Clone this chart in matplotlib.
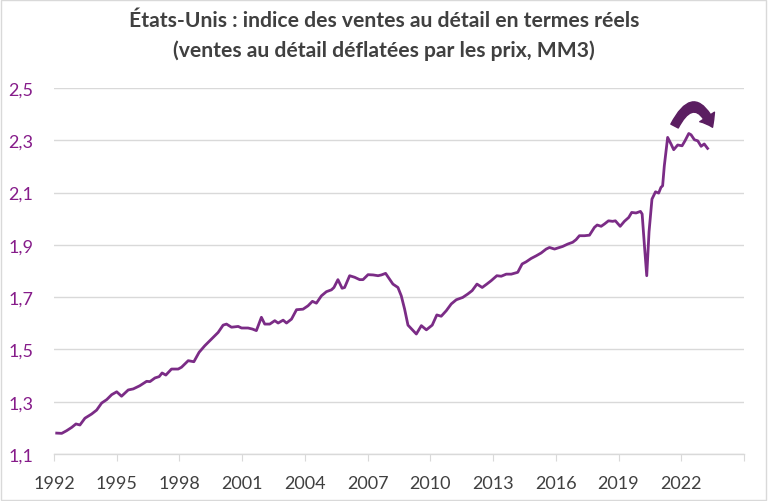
import matplotlib
matplotlib.use('Agg')
import matplotlib.pyplot as plt
from matplotlib.patches import FancyArrowPatch, Rectangle

plt.rcParams['font.family'] = ['Lato', 'DejaVu Sans']

years = [1992.13, 1992.37, 1992.60, 1992.85, 1993.05, 1993.24, 1993.48, 1993.80,
         1994.04, 1994.28, 1994.52, 1994.76, 1995.00, 1995.23, 1995.55, 1995.79,
         1996.10, 1996.43, 1996.59, 1996.83, 1997.03, 1997.17, 1997.35, 1997.62,
         1997.94, 1998.10, 1998.42, 1998.69, 1998.94, 1999.21, 1999.61, 1999.85,
         2000.09, 2000.25, 2000.49, 2000.81, 2000.97, 2001.28, 2001.49, 2001.68,
         2001.92, 2002.08, 2002.32, 2002.56, 2002.72, 2002.96, 2003.12, 2003.36,
         2003.60, 2003.91, 2004.15, 2004.36, 2004.55, 2004.79, 2005.03, 2005.27,
         2005.39, 2005.58, 2005.78, 2005.90, 2006.14, 2006.38, 2006.62, 2006.78,
         2007.02, 2007.26, 2007.50, 2007.66, 2007.86, 2008.05, 2008.21, 2008.45,
         2008.61, 2008.77, 2008.93, 2009.14, 2009.33, 2009.57, 2009.81, 2010.09,
         2010.31, 2010.52, 2010.76, 2011.00, 2011.24, 2011.55, 2011.79, 2012.00,
         2012.23, 2012.48, 2012.70, 2012.91, 2013.18, 2013.39, 2013.63, 2013.87,
         2014.18, 2014.39, 2014.58, 2014.82, 2015.06, 2015.30, 2015.54, 2015.70,
         2015.94, 2016.18, 2016.33, 2016.57, 2016.81, 2016.97, 2017.13, 2017.37,
         2017.61, 2017.85, 2017.98, 2018.17, 2018.33, 2018.52, 2018.72, 2018.85,
         2019.08, 2019.28, 2019.49, 2019.63, 2019.84, 2020.05, 2020.13, 2020.24,
         2020.35, 2020.46, 2020.60, 2020.77, 2020.92, 2021.03, 2021.11, 2021.19,
         2021.35, 2021.51, 2021.64, 2021.83, 2022.04, 2022.18, 2022.36, 2022.47,
         2022.63, 2022.79, 2022.95, 2023.10, 2023.26]
values = [1.180, 1.179, 1.189, 1.202, 1.215, 1.211, 1.237, 1.253,
          1.268, 1.295, 1.308, 1.327, 1.338, 1.321, 1.345, 1.349,
          1.361, 1.378, 1.377, 1.391, 1.396, 1.410, 1.402, 1.425,
          1.425, 1.432, 1.457, 1.453, 1.489, 1.514, 1.546, 1.565,
          1.593, 1.597, 1.585, 1.588, 1.582, 1.582, 1.578, 1.572,
          1.623, 1.597, 1.597, 1.610, 1.601, 1.612, 1.601, 1.616,
          1.652, 1.654, 1.667, 1.684, 1.677, 1.705, 1.721, 1.728,
          1.737, 1.767, 1.734, 1.737, 1.782, 1.776, 1.767, 1.767,
          1.786, 1.785, 1.782, 1.785, 1.791, 1.769, 1.750, 1.737,
          1.705, 1.654, 1.593, 1.575, 1.559, 1.591, 1.575, 1.593,
          1.632, 1.627, 1.648, 1.674, 1.690, 1.699, 1.712, 1.725,
          1.750, 1.737, 1.750, 1.763, 1.782, 1.780, 1.788, 1.788,
          1.795, 1.827, 1.835, 1.848, 1.858, 1.869, 1.884, 1.890,
          1.884, 1.890, 1.894, 1.903, 1.910, 1.920, 1.935, 1.935,
          1.937, 1.967, 1.976, 1.971, 1.980, 1.992, 1.990, 1.992,
          1.971, 1.990, 2.005, 2.024, 2.022, 2.028, 2.018, 1.897,
          1.782, 1.950, 2.075, 2.103, 2.098, 2.120, 2.126, 2.202,
          2.311, 2.286, 2.264, 2.282, 2.279, 2.298, 2.326, 2.321,
          2.302, 2.298, 2.277, 2.286, 2.269]

x_ticks = [1992, 1995, 1998, 2001, 2004, 2007, 2010, 2013, 2016, 2019, 2022, 2025]
x_labels = ['1992', '1995', '1998', '2001', '2004', '2007', '2010', '2013',
            '2016', '2019', '2022', '']
y_ticks = [1.1, 1.3, 1.5, 1.7, 1.9, 2.1, 2.3, 2.5]
y_labels = ['1,1', '1,3', '1,5', '1,7', '1,9', '2,1', '2,3', '2,5']

title = ("États-Unis : indice des ventes au détail en termes réels\n"
         "(ventes au détail déflatées par les prix, MM3)")

line_col = '#7B2C86'
label_col = '#861C8A'
grid_col = '#D9D9D9'

fig = plt.figure(figsize=(7.68, 5.02), dpi=100)
ax = fig.add_axes([0.0703, 0.0936, 0.8984, 0.7291])

ax.plot(years, values, color=line_col, lw=2.0, solid_joinstyle='round', zorder=3)

ax.set_xlim(1992, 2025)
ax.set_ylim(1.1, 2.5)
ax.set_xticks(x_ticks)
ax.set_xticklabels(x_labels)
ax.set_yticks(y_ticks)
ax.set_yticklabels(y_labels)

ax.grid(axis='y', color=grid_col, lw=1.0)
ax.set_axisbelow(True)
for s in ['top', 'right', 'left']:
    ax.spines[s].set_visible(False)
ax.spines['bottom'].set_color(grid_col)
ax.spines['bottom'].set_linewidth(1.0)

ax.tick_params(axis='x', direction='out', length=5, color=grid_col,
               labelsize=13, labelcolor='#404040', pad=10)
ax.tick_params(axis='y', length=0, labelsize=13, labelcolor=label_col, pad=15)

# curved arrow above the recent plateau
arr = FancyArrowPatch((2021.62, 2.345), (2023.55, 2.340),
                      connectionstyle='arc3,rad=-1.1',
                      arrowstyle='simple,head_length=0.7,head_width=1.05,tail_width=0.5',
                      mutation_scale=12, color='#5B1E61', zorder=4)
ax.add_patch(arr)

fig.text(0.5, 0.978, title, ha='center', va='top', fontsize=15.2,
         fontweight='bold', color='#404040', linespacing=1.55)

fig.patches.append(Rectangle((0.001, 0.001), 0.997, 0.997, transform=fig.transFigure,
                             fill=False, edgecolor=grid_col, lw=1.0))

fig.savefig('out.png', dpi=100)
